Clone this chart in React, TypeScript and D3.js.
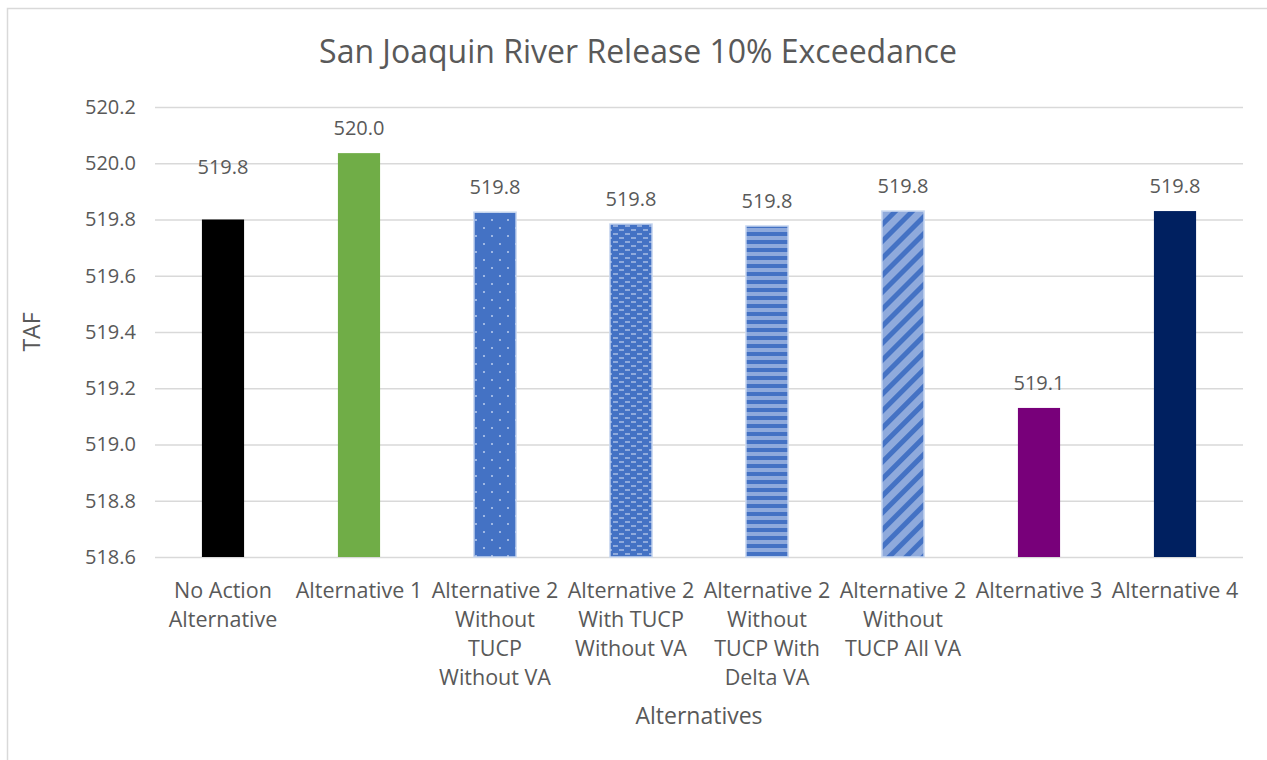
import React, { useEffect, useRef } from "react";
import * as d3 from "d3";

const categories = [
  "No Action Alternative",
  "Alternative 1",
  "Alternative 2 Without TUCP Without VA",
  "Alternative 2 With TUCP Without VA",
  "Alternative 2 Without TUCP With Delta VA",
  "Alternative 2 Without TUCP All VA",
  "Alternative 3",
  "Alternative 4",
];
const categoryLines = [
  ["No Action", "Alternative"],
  ["Alternative 1"],
  ["Alternative 2", "Without", "TUCP", "Without VA"],
  ["Alternative 2", "With TUCP", "Without VA"],
  ["Alternative 2", "Without", "TUCP With", "Delta VA"],
  ["Alternative 2", "Without", "TUCP All VA"],
  ["Alternative 3"],
  ["Alternative 4"],
];
const values = [519.8, 520.036, 519.826, 519.784, 519.777, 519.83, 519.13, 519.83];
const fills = [
  "#000000",
  "#70AD47",
  "url(#pDots)",
  "url(#pBrick)",
  "url(#pHoriz)",
  "url(#pDiag)",
  "#78007A",
  "#002060",
];
const yTicks = [518.6, 518.8, 519.0, 519.2, 519.4, 519.6, 519.8, 520.0, 520.2];

const FONT = "'Open Sans', Lato, sans-serif";
const TEXT = "#595959";

const App = () => {
  const ref = useRef<SVGSVGElement>(null);

  useEffect(() => {
    const width = 1267;
    const height = 760;
    const marginTop = 107;
    const marginRight = 24;
    const marginBottom = 203;
    const marginLeft = 155;

    const svg = d3.select(ref.current);
    svg.selectAll("*").remove();

    // patterns
    const defs = svg.append("defs");
    const blue = "#4472C4";
    const light = "#8FAADC";

    const dots = defs
      .append("pattern")
      .attr("id", "pDots")
      .attr("patternUnits", "userSpaceOnUse")
      .attr("width", 16)
      .attr("height", 16);
    dots.append("rect").attr("width", 16).attr("height", 16).attr("fill", blue);
    [
      [3, 3],
      [11, 11],
    ].forEach(([cx, cy]) =>
      dots.append("rect").attr("x", cx).attr("y", cy).attr("width", 2).attr("height", 2).attr("fill", "#9DB6E3")
    );

    const brick = defs
      .append("pattern")
      .attr("id", "pBrick")
      .attr("patternUnits", "userSpaceOnUse")
      .attr("width", 12)
      .attr("height", 8);
    brick.append("rect").attr("width", 12).attr("height", 8).attr("fill", blue);
    brick.append("rect").attr("x", 1).attr("y", 1).attr("width", 5).attr("height", 2).attr("fill", light);
    brick.append("rect").attr("x", 7).attr("y", 5).attr("width", 5).attr("height", 2).attr("fill", light);

    const horiz = defs
      .append("pattern")
      .attr("id", "pHoriz")
      .attr("patternUnits", "userSpaceOnUse")
      .attr("width", 8)
      .attr("height", 8);
    horiz.append("rect").attr("width", 8).attr("height", 8).attr("fill", light);
    horiz.append("rect").attr("width", 8).attr("height", 4).attr("fill", blue);

    const diag = defs
      .append("pattern")
      .attr("id", "pDiag")
      .attr("patternUnits", "userSpaceOnUse")
      .attr("width", 12)
      .attr("height", 12)
      .attr("patternTransform", "rotate(-45)");
    diag.append("rect").attr("width", 12).attr("height", 12).attr("fill", light);
    diag.append("rect").attr("width", 12).attr("height", 5).attr("fill", blue);

    // chart border
    svg
      .append("rect")
      .attr("x", 7.5)
      .attr("y", 8.5)
      .attr("width", width + 10)
      .attr("height", height + 10)
      .attr("fill", "white")
      .attr("stroke", "#D9D9D9")
      .attr("stroke-width", 1.5);

    const x = d3
      .scaleBand()
      .domain(categories)
      .range([marginLeft, width - marginRight])
      .paddingInner(0.69)
      .paddingOuter(0.345);

    const y = d3
      .scaleLinear()
      .domain([518.6, 520.2])
      .range([height - marginBottom, marginTop]);

    // gridlines + y axis labels
    svg
      .append("g")
      .attr("transform", `translate(${marginLeft},0)`)
      .call(d3.axisLeft(y).tickValues(yTicks).tickFormat(d3.format(".1f")).tickSize(0).tickPadding(19))
      .call((g) => g.select(".domain").remove())
      .call((g) =>
        g
          .selectAll(".tick line")
          .clone()
          .attr("x2", width - marginLeft - marginRight)
          .attr("stroke", "#D9D9D9")
          .attr("stroke-width", 1.5)
      )
      .call((g) =>
        g.selectAll(".tick text").attr("fill", TEXT).attr("font-size", 20).attr("font-family", FONT)
      );

    // bars
    svg
      .append("g")
      .selectAll("rect")
      .data(values)
      .join("rect")
      .attr("x", (_, i) => x(categories[i])!)
      .attr("width", x.bandwidth())
      .attr("y", (d) => y(d))
      .attr("height", (d) => y(518.6) - y(d))
      .attr("fill", (_, i) => fills[i])
      .attr("stroke", (_, i) => (i >= 2 && i <= 5 ? "#C9D8F0" : "none"))
      .attr("stroke-width", 1.5);

    // value labels (first one sits higher, as in the source)
    svg
      .append("g")
      .selectAll("text")
      .data(values)
      .join("text")
      .attr("x", (_, i) => x(categories[i])! + x.bandwidth() / 2)
      .attr("y", (d, i) => y(d) - (i === 0 ? 46 : 18))
      .attr("text-anchor", "middle")
      .attr("fill", TEXT)
      .attr("font-size", 20)
      .attr("font-family", FONT)
      .text((d) => d.toFixed(1));

    // x axis labels
    const xl = svg
      .append("g")
      .selectAll("text")
      .data(categoryLines)
      .join("text")
      .attr("x", (_, i) => x(categories[i])! + x.bandwidth() / 2)
      .attr("y", height - marginBottom + 41)
      .attr("text-anchor", "middle")
      .attr("fill", TEXT)
      .attr("font-size", 21.5)
      .attr("font-family", FONT);
    xl.selectAll("tspan")
      .data((d) => d)
      .join("tspan")
      .attr("x", function () {
        return (this.parentNode as SVGTextElement).getAttribute("x");
      })
      .attr("dy", (_, j) => (j === 0 ? 0 : 29))
      .text((d) => d);

    // title
    svg
      .append("text")
      .attr("x", 638)
      .attr("y", 63)
      .attr("text-anchor", "middle")
      .attr("fill", TEXT)
      .attr("font-size", 32)
      .attr("font-family", FONT)
      .text("San Joaquin River Release 10% Exceedance");

    // axis titles
    svg
      .append("text")
      .attr("transform", `translate(40,${(marginTop + height - marginBottom) / 2}) rotate(-90)`)
      .attr("text-anchor", "middle")
      .attr("fill", TEXT)
      .attr("font-size", 23)
      .attr("font-family", FONT)
      .text("TAF");

    svg
      .append("text")
      .attr("x", (marginLeft + width - marginRight) / 2)
      .attr("y", 724)
      .attr("text-anchor", "middle")
      .attr("fill", TEXT)
      .attr("font-size", 23)
      .attr("font-family", FONT)
      .text("Alternatives");
  }, []);

  return (
    <svg
      ref={ref}
      width={1267}
      height={760}
      style={{ position: "absolute", left: 0, top: 0 }}
    ></svg>
  );
};

export default App;
